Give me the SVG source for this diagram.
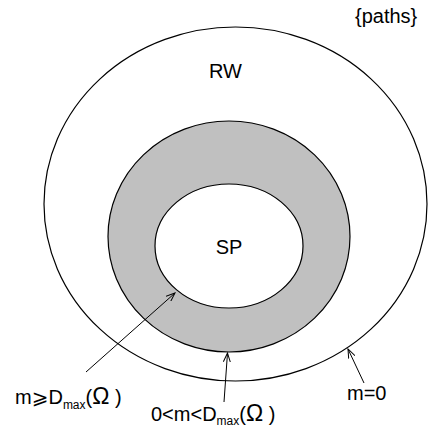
<svg xmlns="http://www.w3.org/2000/svg" width="429" height="428" viewBox="0 0 429 428">
<style>
.e{stroke:#000;stroke-width:1.2}
.t{font-family:"Liberation Sans",Arial,"DejaVu Sans",sans-serif;font-size:20px;fill:#000}
.s{font-size:12px}
.o{font-size:23px}
.c{stroke:#000;stroke-width:1;fill:none}
</style>
<defs>
<marker id="ah" markerWidth="10" markerHeight="8" refX="9" refY="4" orient="auto" markerUnits="userSpaceOnUse">
<path d="M0,0.5 L9,4 L0,7.5" fill="none" stroke="#000" stroke-width="1"/>
</marker>
</defs>
<rect width="429" height="428" fill="#fff"/>
<g id="rw"><ellipse class="e" cx="235.5" cy="204" rx="191.5" ry="177" fill="#fff"/><text class="t" x="225.5" y="78" text-anchor="middle">RW</text></g>
<g id="band"><ellipse class="e" cx="229" cy="236.5" rx="121" ry="115.5" fill="#c0c0c0"/></g>
<g id="sp"><ellipse class="e" cx="229" cy="246" rx="74" ry="62" fill="#fff"/><text class="t" x="229" y="254" text-anchor="middle">SP</text></g>
<g id="paths"><text class="t" x="355" y="23">{paths}</text></g>
<g id="connectors">
<line class="c" x1="86" y1="372" x2="175" y2="293" marker-end="url(#ah)"/>
<line class="c" x1="224" y1="402" x2="227.5" y2="353" marker-end="url(#ah)"/>
<line class="c" x1="364" y1="383" x2="348" y2="349" marker-end="url(#ah)"/>
</g>
<g id="labels">
<text class="t" x="15" y="404">m⩾D<tspan class="s" dy="5">max</tspan><tspan dy="-5">(</tspan><tspan class="o">Ω</tspan> )</text>
<text class="t" x="151" y="421">0&lt;m&lt;D<tspan class="s" dy="4">max</tspan><tspan dy="-4">(</tspan><tspan class="o">Ω</tspan> )</text>
<text class="t" x="347" y="400">m=0</text>
</g>
</svg>
